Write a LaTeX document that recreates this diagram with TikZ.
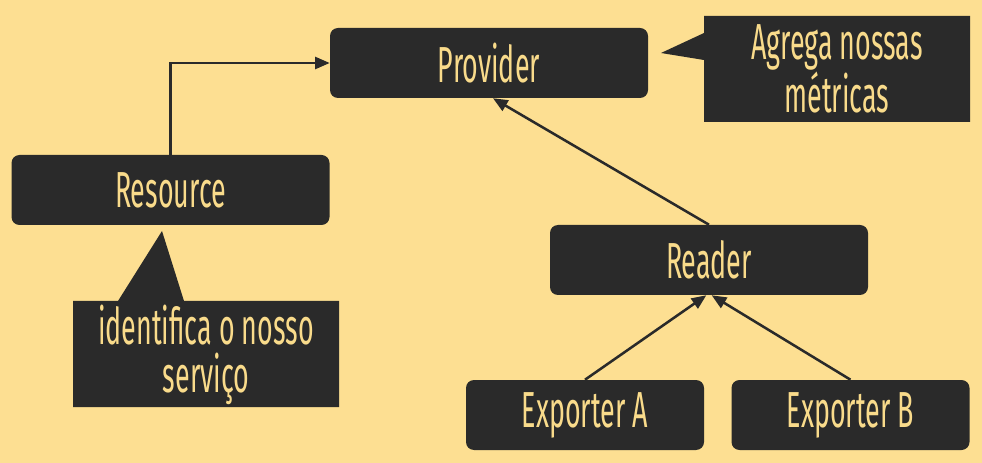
\documentclass[tikz,border=0pt]{standalone}
\usepackage{fontspec}
\setmainfont[FakeStretch=0.53]{Fira Sans}
\usetikzlibrary{arrows.meta}
\definecolor{bg}{HTML}{FDDF92}
\definecolor{boxc}{HTML}{2A2A2A}
\definecolor{txt}{HTML}{F9DB8B}
\begin{document}
\begin{tikzpicture}[x=0.75pt,y=-0.75pt,
  lbl/.style={text=txt, font=\fontsize{38pt}{36pt}\selectfont, align=center, inner sep=0pt},
  blk/.style={lbl, fill=boxc, rounded corners=6pt, minimum height=52.5pt},
  wide/.style={blk, minimum width=238.5pt},
  narrow/.style={blk, minimum width=178.5pt},
  arr/.style={draw=boxc, line width=1.9pt, -{Triangle[length=11pt,width=9pt]}}]
\fill[bg] (0,0) rectangle (982,463);
\node[wide] (prov) at (489,63) {Provider};
\node[wide] (res) at (170.5,190) {Resource};
\node[wide] (rd) at (709,260) {Reader};
\node[narrow] (ea) at (585,415) {Exporter A};
\node[narrow] (eb) at (850.5,415) {Exporter B};
% callouts
\fill[boxc] (704,16) -- (970,16) -- (970,122) -- (704,122) -- (704,60) -- (661,53) -- (704,33) -- cycle;
\node[lbl] (agr) at (837,69) {Agrega nossas\\métricas};
\fill[boxc] (73,301) -- (118,301) -- (162,231) -- (184,301) -- (339,301) -- (339,407) -- (73,407) -- cycle;
\node[lbl] (idf) at (206,355) {identifica o nosso\\serviço};
% connectors
\draw[arr] (res.north) |- (prov.west);
\draw[arr] (rd.north) -- ([xshift=3pt]prov.south);
\draw[arr] (ea.north) -- ([xshift=-2pt]rd.south);
\draw[arr] (eb.north) -- ([xshift=2pt]rd.south);
\end{tikzpicture}
\end{document}
